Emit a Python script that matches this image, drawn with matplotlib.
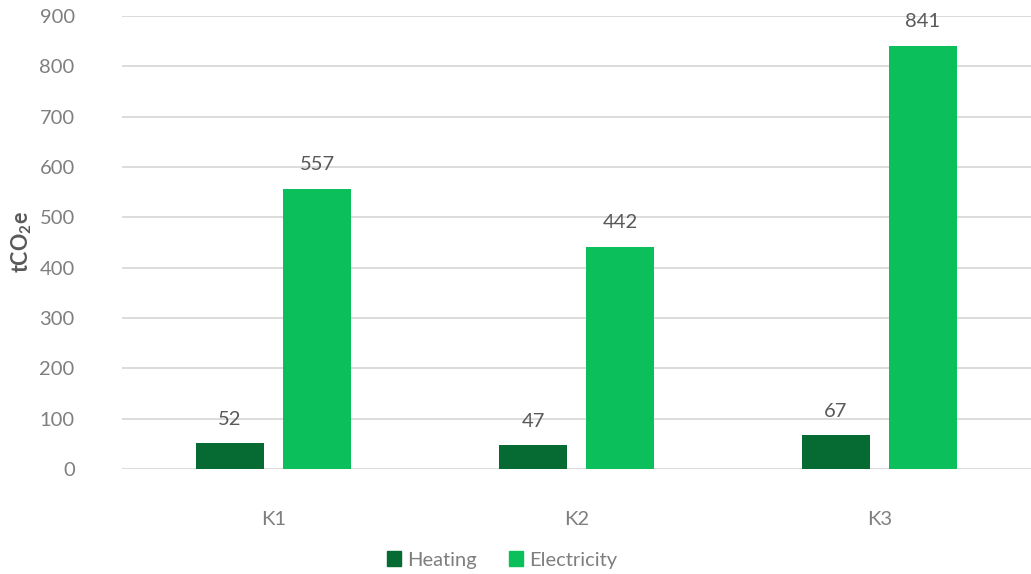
import numpy as np
import matplotlib.pyplot as plt
from matplotlib.patches import Patch

plt.rcParams['font.family'] = ['Lato', 'DejaVu Sans']
plt.rcParams['mathtext.fontset'] = 'custom'
plt.rcParams['mathtext.rm'] = 'Lato'
plt.rcParams['mathtext.bf'] = 'Lato:bold'

sites = ['K1', 'K2', 'K3']
heating = [52, 47, 67]
electricity = [557, 442, 841]
yticks = [0, 100, 200, 300, 400, 500, 600, 700, 800, 900]

c_heat = '#066A33'
c_elec = '#0BBF5A'
grey = '#7F7F7F'

fig = plt.figure(figsize=(10.31, 5.74), dpi=100)
ax = fig.add_axes([0.1183, 0.1829, 0.8817, 0.7892])

x = np.arange(len(sites))
w = 0.224
off = 0.1436
b1 = ax.bar(x - off, heating, w, color=c_heat, zorder=3)
b2 = ax.bar(x + off, electricity, w, color=c_elec, zorder=3)

# value labels above each bar
for bars, vals in ((b1, heating), (b2, electricity)):
    for r, v in zip(bars, vals):
        ax.annotate(str(v), (r.get_x() + r.get_width() / 2, v),
                    xytext=(0, 11), textcoords='offset points',
                    ha='center', va='bottom', fontsize=14.5, color='#595959')

ax.set_xlim(-0.5, 2.5)
ax.set_ylim(0, 900)
ax.set_yticks(yticks)
ax.set_xticks(x)
ax.set_xticklabels(sites)
ax.yaxis.grid(True, color='#D9D9D9', linewidth=1.3, zorder=0)
ax.set_axisbelow(True)
for s in ax.spines.values():
    s.set_visible(False)
ax.tick_params(axis='both', length=0, labelsize=14.5, labelcolor=grey)
ax.tick_params(axis='y', pad=34)
ax.tick_params(axis='x', pad=30)

ax.set_ylabel(r'tCO$_{\mathbf{2}}$e', fontsize=15.5, fontweight='bold',
              color='#595959')
ax.yaxis.set_label_coords(-0.097, 0.5)

handles = [Patch(color=c_heat, label='Heating'), Patch(color=c_elec, label='Electricity')]
fig.legend(handles=handles, loc='lower center', bbox_to_anchor=(0.487, -0.022),
           ncol=2, frameon=False, fontsize=14.5, labelcolor=grey,
           handlelength=0.7, handleheight=0.7, handletextpad=0.3, columnspacing=1.6)

fig.savefig('out.png', dpi=100)
